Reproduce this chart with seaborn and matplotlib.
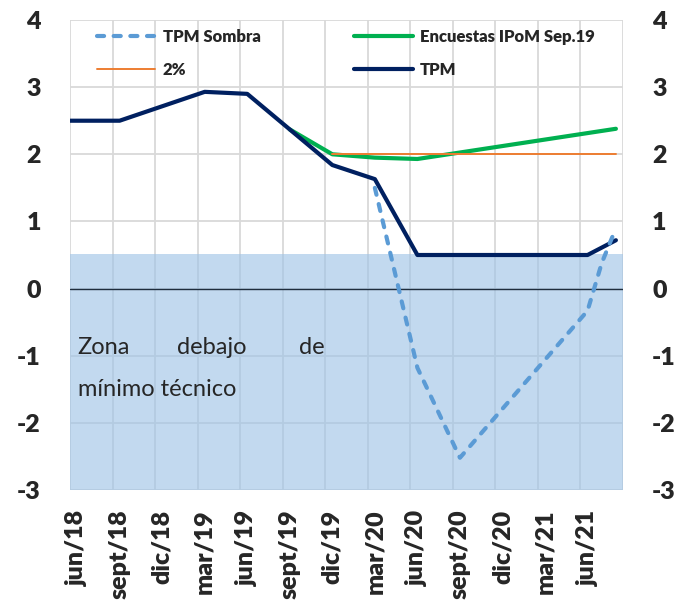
import matplotlib
matplotlib.use("Agg")
import matplotlib.pyplot as plt
from matplotlib.ticker import MultipleLocator, FixedLocator
import seaborn as sns

# meses contados desde jun/18 (0 = jun/18)
etiquetas = ["jun/18", "sept/18", "dic/18", "mar/19", "jun/19", "sept/19", "dic/19",
             "mar/20", "jun/20", "sept/20", "dic/20", "mar/21", "jun/21"]
pos_etiquetas = [0, 3, 6, 9, 12, 15, 18, 21, 24, 27, 30, 33, 36]

tpm_mes = [-1, 0, 3, 9, 12, 18, 21, 24, 36, 38]
tpm = [2.5, 2.5, 2.5, 2.93, 2.9, 1.84, 1.63, 0.5, 0.5, 0.72]

encuestas_mes = [15, 18, 21, 24, 38]
encuestas = [2.37, 2.0, 1.95, 1.93, 2.38]

meta_mes = [18, 38]
meta = [2.0, 2.0]

sombra_mes = [21, 24, 27, 36, 37, 38]
sombra = [1.5, -1.18, -2.52, -0.33, 0.38, 0.9]

zona_techo = 0.52

sns.set_style("white")
plt.rcParams['font.family'] = ['Lato', 'DejaVu Sans']
plt.rcParams['axes.unicode_minus'] = False

fig = plt.figure(figsize=(6.8, 6.06), dpi=100)
ax = fig.add_axes([70 / 680, 116 / 606, 553 / 680, 470 / 606])

ax.axhspan(-3, zona_techo, color='#9DC3E6', alpha=0.62, lw=0, zorder=1)
ax.axhline(0, color='#1F2D3D', lw=1, zorder=1.5)

sns.lineplot(x=encuestas_mes, y=encuestas, ax=ax, color='#00B050', lw=3,
             label='Encuestas IPoM Sep.19', zorder=2)
sns.lineplot(x=meta_mes, y=meta, ax=ax, color='#ED7D31', lw=1.4,
             label='2%', zorder=3)
sns.lineplot(x=tpm_mes, y=tpm, ax=ax, color='#002060', lw=3,
             label='TPM', zorder=4)
l_sombra = sns.lineplot(x=sombra_mes, y=sombra, ax=ax, color='#5B9BD5', lw=3,
                        label='TPM Sombra', zorder=5).lines[-1]
l_sombra.set_dashes((1.7, 2.3))
l_sombra.set_dash_capstyle('round')

ax.set_xlim(-0.5, 38.5)
ax.set_ylim(-3, 4)
ax.yaxis.set_major_locator(MultipleLocator(1))
ax.set_xticks(pos_etiquetas)
ax.set_xticklabels(etiquetas, rotation=90, fontsize=18, fontweight='heavy')
ax.xaxis.set_minor_locator(FixedLocator([m - 0.5 for m in range(0, 40, 3)]))
ax.grid(False)
ax.grid(which='minor', axis='x', color='#D9D9D9', lw=1.3, zorder=0.5)
ax.grid(which='major', axis='y', color='#D9D9D9', lw=1.3, zorder=0.5)
ax.set_axisbelow(True)
for s in ax.spines.values():
    s.set_visible(False)

ax.tick_params(axis='x', which='both', length=0, pad=14)
ax.tick_params(axis='y', length=0, labelleft=True, labelright=True, pad=21,
               labelsize=18)
for t in ax.yaxis.get_major_ticks():
    t.label1.set_fontweight('heavy')
    t.label2.set_fontweight('heavy')
ax.set_xlabel("")
ax.set_ylabel("")

# texto de la zona
tr = ax.get_yaxis_transform()
estilo = dict(fontsize=17, fontweight='normal', color='#262626', va='baseline')
ax.text(0.014, -0.97, "Zona", transform=tr, ha='left', **estilo)
ax.text(0.193, -0.97, "debajo", transform=tr, ha='left', **estilo)
ax.text(0.461, -0.97, "de", transform=tr, ha='right', **estilo)
ax.text(0.014, -1.6, "mínimo técnico", transform=tr, ha='left', **estilo)

h, l = ax.get_legend_handles_labels()
orden = ['TPM Sombra', '2%', 'Encuestas IPoM Sep.19', 'TPM']
hs = [h[l.index(o)] for o in orden]
leg = ax.legend(hs, orden, ncol=2, loc='upper left', bbox_to_anchor=(0.022, 1.013),
                frameon=False, prop={'weight': 'heavy', 'size': 12},
                handlelength=3.5, handletextpad=0.45, labelspacing=1.0,
                columnspacing=5.6)

fig.savefig("out.png", dpi=100)
